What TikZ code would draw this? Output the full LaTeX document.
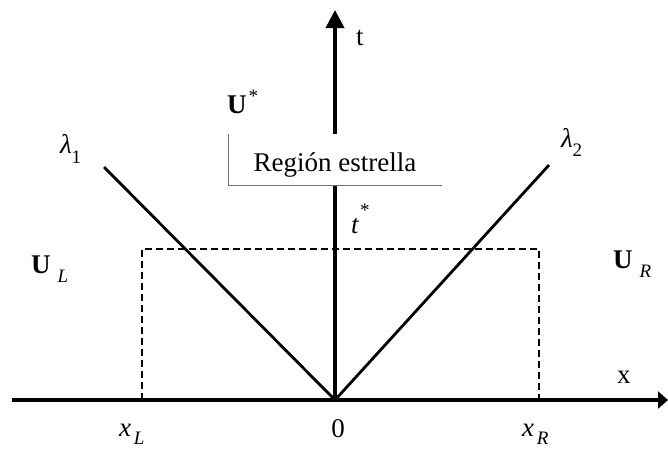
\documentclass[tikz,border=0pt]{standalone}
\usepackage{fontspec}
\setmainfont{Liberation Serif}
\usetikzlibrary{arrows.meta}
\newcommand\mysubsc[2]{\raisebox{#1}{\fontsize{19}{20}\selectfont #2}}
\begin{document}
\begin{tikzpicture}[x=1pt,y=-1pt,
  lbl/.style={inner sep=0pt,outer sep=0pt,font=\fontsize{27}{30}\selectfont,anchor=base west},
  axis/.style={line width=3.6pt},
  wave/.style={line width=2.8pt},
  dashbox/.style={line width=2.4pt,dash pattern=on 7pt off 4pt},
  regionbox/.style={fill=white,inner sep=0pt,minimum width=213pt,minimum height=51pt},
  regionborder/.style={draw=black!55,line width=0.9pt}]
\useasboundingbox (0,0) rectangle (668,448);
\coordinate (O) at (335,400);
\coordinate (tTop) at (335,10);
\coordinate (xStart) at (12,400);
\coordinate (xEnd) at (668,400);
\coordinate (l1) at (104,167);
\coordinate (l2) at (549,165);
\coordinate (dbl) at (142,400);
\coordinate (dtl) at (142,249);
\coordinate (dtr) at (539,249);
\coordinate (dbr) at (539,400);
% dashed region
\draw[dashbox] (dbl) -- (dtl) -- (dtr) -- (dbr);
% characteristic lines
\draw[wave] (O) -- (l1);
\draw[wave] (O) -- (l2);
% axes
\draw[axis,-{Triangle[length=10pt,width=17pt]}] (xStart) -- (xEnd);
\draw[axis,-{Triangle[length=18pt,width=18pt]}] (O) -- (tTop);
% star region label box
\node[regionbox] (box) at (335.5,159.5) {};
\draw[regionborder] (box.north west) -- (box.south west) -- (box.south east);
\node[lbl,anchor=base] (reg) at (335,171) {Región estrella};
% labels
\node[lbl] (tlab) at (356,45) {t};
\node[lbl] (xlab) at (617,383) {x};
\node[lbl] (ustar) at (227,113) {\textbf{U}\kern2pt\mysubsc{11pt}{*}};
\node[lbl] (tstar) at (351,233) {\textit{t}\kern1pt\mysubsc{17pt}{*}};
\node[lbl] (UL) at (31,273) {\textbf{U}\kern7pt\mysubsc{-9pt}{\itshape L}};
\node[lbl] (UR) at (613,268) {\textbf{U}\kern7pt\mysubsc{-9pt}{\itshape R}};
\node[lbl] (lam1) at (60,153) {\textit{λ}\mysubsc{-10pt}{1}};
\node[lbl] (lam2) at (561,147) {\textit{λ}\mysubsc{-9pt}{2}};
\node[lbl] (xLl) at (119,436) {\textit{x}\kern3pt\mysubsc{-8pt}{\itshape L}};
\node[lbl] (xRl) at (522,436) {\textit{x}\kern3pt\mysubsc{-8pt}{\itshape R}};
\node[lbl,anchor=base] (zero) at (338,437) {0};
\end{tikzpicture}
\end{document}
